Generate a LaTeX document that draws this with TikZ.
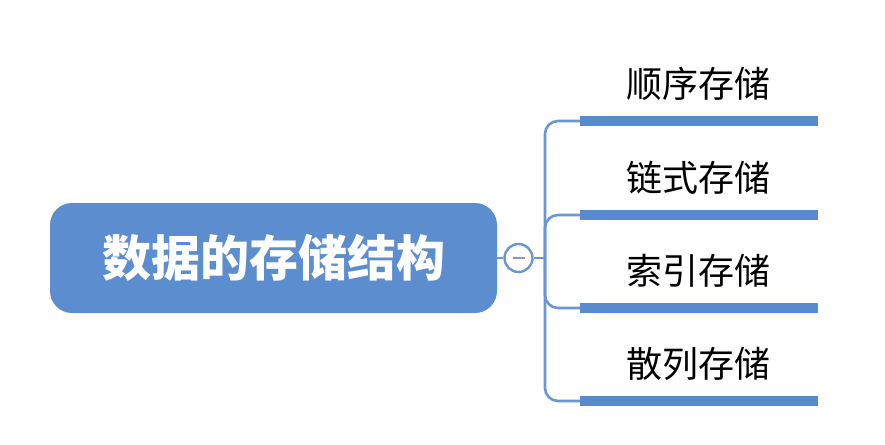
\documentclass[tikz,border=0pt]{standalone}
\usepackage{fontspec}
\newfontfamily\cjk{Noto Sans CJK SC}
\definecolor{rootblue}{RGB}{91,141,207}
\definecolor{barblue}{RGB}{88,138,206}
\definecolor{lineblue}{RGB}{105,150,212}
\definecolor{minusgray}{RGB}{140,150,195}
\begin{document}
\begin{tikzpicture}[x=1pt,y=-1pt,
  rootbox/.style={fill=rootblue, rounded corners=22pt, minimum width=447pt, minimum height=110pt, inner sep=0pt,
    text=white, font=\cjk\bfseries\fontsize{49}{52}\selectfont},
  toggle/.style={circle, draw=lineblue, line width=2.4pt, fill=white, minimum size=28pt, inner sep=0pt},
  leaf/.style={inner sep=0pt, text=black, font=\cjk\fontsize{36}{40}\selectfont},
  bar/.style={draw=barblue, line width=9.5pt},
  conn/.style={draw=lineblue, line width=2.6pt, rounded corners=13pt}
]
\useasboundingbox[fill=white] (0,0) rectangle (885,444);
\node[rootbox] (root) at (273.5,258) {数据的存储结构};
\node[toggle] (tog) at (518.5,258) {};
\draw[minusgray, line width=2.4pt] ([xshift=-6pt]tog.center) -- ([xshift=6pt]tog.center);
\coordinate (j) at (545,258);

\node[leaf] (l1) at (698,84) {顺序存储};
\node[leaf] (l2) at (698,178) {链式存储};
\node[leaf] (l3) at (698,271) {索引存储};
\node[leaf] (l4) at (698,364) {散列存储};

\coordinate (s1) at (580,121); \coordinate (e1) at (818,121);
\coordinate (s2) at (580,215); \coordinate (e2) at (818,215);
\coordinate (s3) at (580,308); \coordinate (e3) at (818,308);
\coordinate (s4) at (580,401); \coordinate (e4) at (818,401);

\draw[conn] (root.east) -- (tog.west);
\draw[conn] (tog.east) -- (j);
\draw[conn] (j) |- (s1);
\draw[conn] (j) |- (s2);
\draw[conn] (j) |- (s3);
\draw[conn] (j) |- (s4);

\draw[bar] (s1) -- (e1);
\draw[bar] (s2) -- (e2);
\draw[bar] (s3) -- (e3);
\draw[bar] (s4) -- (e4);
\end{tikzpicture}
\end{document}
